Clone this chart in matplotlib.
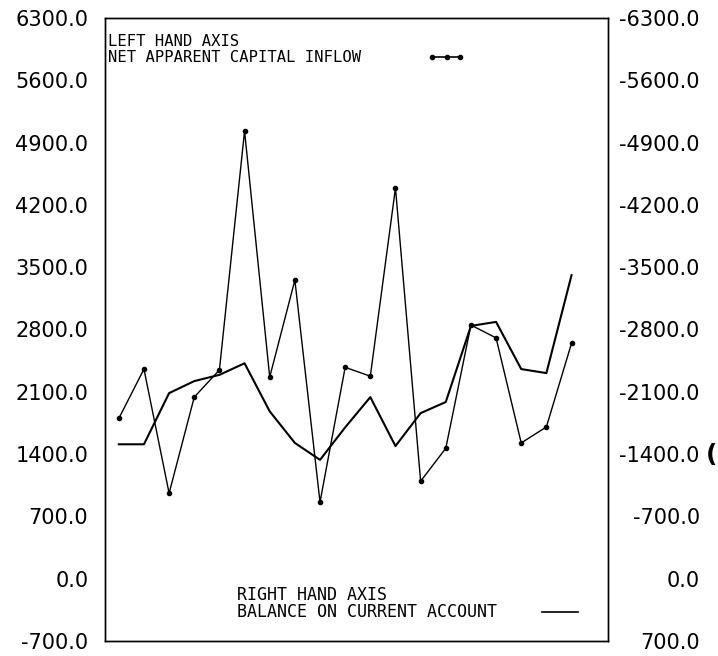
import matplotlib.pyplot as plt
import numpy as np

# periods (no labels on the x axis in the original)
periods = list(range(1, 20))

# net apparent capital inflow, left hand axis
capital_inflow = [1800, 2355, 960, 2040, 2345, 5030, 2265, 3355, 860, 2375,
                  2275, 4390, 1095, 1465, 2850, 2705, 1525, 1705, 2645]

# balance on current account, right hand axis (deficits, axis runs downwards)
current_account = [-1510, -1510, -2085, -2220, -2290, -2420, -1880, -1525, -1335, -1700,
                   -2040, -1490, -1860, -1985, -2840, -2885, -2355, -2310, -3410]

left_ticks = [-700, 0, 700, 1400, 2100, 2800, 3500, 4200, 4900, 5600, 6300]
right_ticks = [700, 0, -700, -1400, -2100, -2800, -3500, -4200, -4900, -5600, -6300]

plt.rcParams['font.family'] = ['DejaVu Sans']

fig = plt.figure(figsize=(7.18, 6.56), dpi=100)
ax = fig.add_axes([0.1462, 0.0229, 0.7006, 0.9497])
ax2 = ax.twinx()

# capital inflow: thin line with small dots
ax.plot(periods, capital_inflow, color='black', lw=1.0, marker='o', ms=3)
# current account: plain line
ax2.plot(periods, current_account, color='black', lw=1.5)

ax.set_xlim(0.45, 20.45)
ax.set_ylim(-700, 6300)
ax2.set_ylim(700, -6300)

ax.set_xticks([])
ax.set_yticks(left_ticks)
ax.set_yticklabels(['%.1f' % v for v in left_ticks])
ax.tick_params(axis='y', length=0, pad=12, labelsize=15)

ax2.set_yticks(right_ticks)
ax2.set_yticklabels(['%.1f' % v for v in right_ticks])
ax2.tick_params(axis='y', length=0, pad=66, labelsize=15)
for lab in ax2.get_yticklabels():
    lab.set_horizontalalignment('right')

for a in (ax, ax2):
    for sp in a.spines.values():
        sp.set_linewidth(1.0)

# legend texts in the plot corners
mono = 'DejaVu Sans Mono'
ax.text(0.006, 0.963, 'LEFT HAND AXIS', transform=ax.transAxes, family=mono,
        fontsize=11.2, va='center', ha='left')
ax.text(0.006, 0.937, 'NET APPARENT CAPITAL INFLOW', transform=ax.transAxes, family=mono,
        fontsize=11.2, va='center', ha='left')
ax.plot([0.651, 0.679, 0.705], [0.937, 0.937, 0.937], transform=ax.transAxes,
        color='black', lw=1.2, marker='o', ms=3)

ax.text(0.262, 0.074, 'RIGHT HAND AXIS', transform=ax.transAxes, family=mono,
        fontsize=12, va='center', ha='left')
ax.text(0.262, 0.047, 'BALANCE ON CURRENT ACCOUNT', transform=ax.transAxes, family=mono,
        fontsize=12, va='center', ha='left')
ax.plot([0.869, 0.940], [0.047, 0.047], transform=ax.transAxes, color='black', lw=1.2)

# bracket at the right edge of the scan
fig.text(0.999, 1 - 455 / 656, '(', fontsize=18, weight='bold', va='center', ha='right')

fig.savefig('out.png', dpi=100)
